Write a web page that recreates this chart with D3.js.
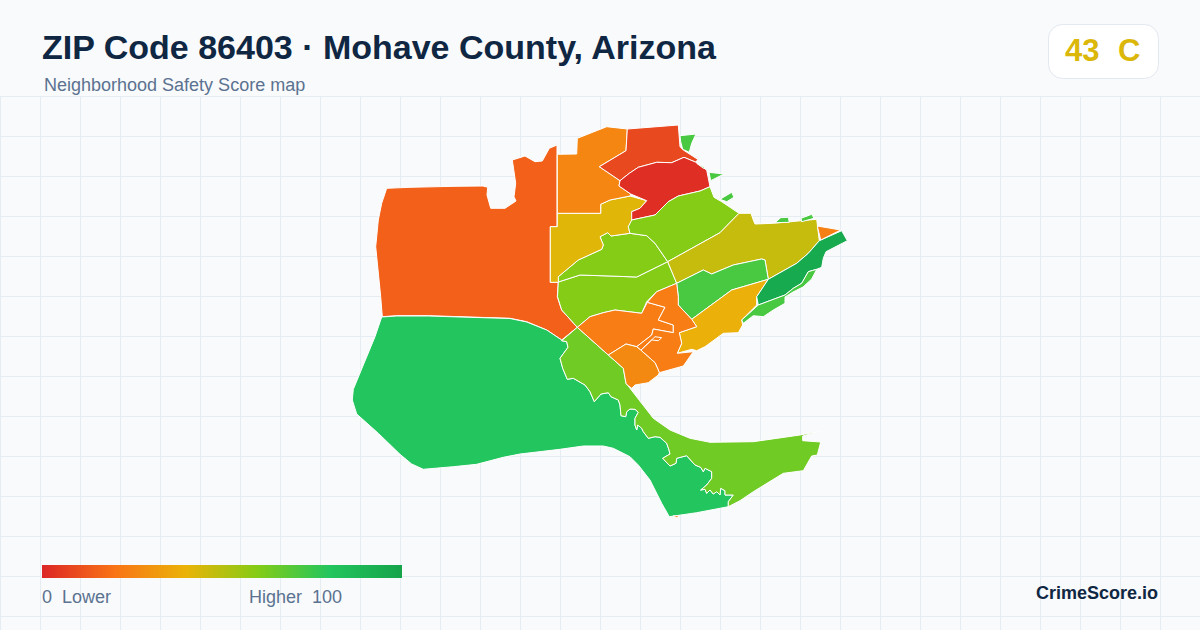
<!DOCTYPE html>
<html>
<head>
<meta charset="utf-8">
<script src="https://cdn.jsdelivr.net/npm/d3@7"></script>
<style>
html, body { margin: 0; padding: 0; background: #f8fafc; }
svg { display: block; font-family: "Liberation Sans", Arial, sans-serif; }
</style>
</head>
<body>
<svg id="chart"></svg>
<script>
var width = 1200,
	height = 630;

// score scale
var legendStops = [0, 20, 40, 60, 80, 100];
var legendColors = ['#dc2626', '#f97316', '#eab308', '#84cc16', '#22c55e', '#16a34a'];

var titleText = 'ZIP Code 86403 · Mohave County, Arizona';
var subtitleText = 'Neighborhood Safety Score map';
var overallScore = 43;
var overallGrade = 'C';
var legendLow = ['0', 'Lower'];
var legendHigh = ['Higher', '100'];
var brandText = 'CrimeScore.io';

var inletShore = [[561.7,340.7],[566.7,341.7],[568,347.3],[560,358.3],[562.7,368.3],[567.3,379.3],[573.3,378.3],[585,385],[590,391.7],[594.3,401.7],[601,394],[608.3,392.7],[611,396.7],[618.3,400],[620,405],[621,415.7],[625.7,416.7],[626.7,411.7],[630,409],[635,409.3],[638.3,412.3],[635,418.3],[635,425],[636.7,430],[637.7,425],[641.7,428.3],[643.3,431.7],[648.3,438.3],[655,436.7],[660,437.3],[666.7,443.3],[669,450],[670,454],[662.7,458.3],[670,466],[676,463.3],[676.7,458.3],[686.7,455.7],[695,465],[700.7,467.3],[703.3,471.7],[705,468.3],[711.7,471.7],[711.7,478.3],[706.7,485],[700.7,490],[705,489.3],[706.7,493.3],[710,490],[713.3,494],[716.7,491.7],[720,495],[720.7,488.3],[725,490.7],[725,495],[733.3,495],[728.3,501.7],[728.3,506.7]];

var westBasin = [[386.7,188.3],[410,187.3],[455,186.3],[483,186],[487.7,187.3],[487,195],[490.7,208.3],[505,208.3],[516,201],[514,196.7],[515.7,183.3],[512.3,160],[525,156],[535,161.7],[542.3,161],[549.3,148.3],[557,145],[557,226.7],[550.3,226.7],[550.3,282.3],[558.3,282.3],[557.3,296.7],[561.7,310],[577.3,327.3],[561.7,340],[546.7,330],[526.7,321.7],[510,318.3],[460,316.7],[428.3,315.7],[396.7,315.7],[382.3,316.7],[380.7,296.7],[376.7,256.7],[375.7,246.7],[378.3,220],[381.7,203.3]];
var southWest = [[381.7,317],[396.7,316],[428.3,316],[460,317],[510,318.5],[526.7,322],[546.7,330],[561.7,340]].concat(inletShore, [[696.7,512.7],[669.3,516.7],[661.7,503.3],[650,480],[638.3,465],[630,456.7],[613.3,448.3],[603.3,446],[583.3,446],[560,449.3],[520,454],[503.3,457.3],[476.7,464.3],[453.3,466.7],[423.3,469.3],[411.7,464],[400,454.3],[378.3,433.3],[356.7,414],[352.3,400],[353.3,389.3],[363.3,365],[375,336.7]]);
var peninsula = [[577.3,327.3],[608.3,355],[623.3,368.3],[626,383.3],[630,388.3],[653.3,418.3],[670,430],[690,438.3],[710,442.3],[753.3,441.7],[800,435],[820,431.3],[802.7,436],[802.7,440.7],[820.7,442],[817.3,455],[811.7,456],[803.3,470.7],[783.3,473.3],[753.3,491.7],[740,500.7]].concat(inletShore.slice().reverse());
var centralSouth = [[558.3,282],[580,275],[610,276],[636.7,277],[667.7,261.7],[676.7,283.3],[656.7,291.7],[646.7,301.7],[641.7,313.3],[615,310],[603.3,312.7],[590,316.7],[577.3,327.3],[561.7,310],[557.5,296.7]];
var centralNorth = [[558.3,276.7],[578.3,260],[601.7,249.3],[603.3,245],[600,236.7],[607.7,232.7],[611,236],[630,233.3],[646.7,235.7],[655,243.3],[667.7,261.7],[636.7,277],[610,276],[580,275],[558.3,282]];
var westCentral = [[557.3,213.3],[600.7,213.3],[600.7,204.3],[610,200],[630,196],[646.7,200.7],[640,208.3],[631.7,211.7],[632.3,220],[628.3,226.7],[630,233.3],[611,236],[607.7,232.7],[600,236.7],[603.3,245],[601.7,249.3],[578.3,260],[558.3,276.7],[558.3,282.3],[550.3,282.3],[550.3,226.7],[557.3,226.7]];
var northWest = [[557.3,154.3],[576.7,154],[577.3,138.3],[606.7,126.7],[627.3,129],[626,150.7],[599.3,166.7],[620,180.7],[619,186],[630.7,194],[630,196],[610,200],[600.7,204.3],[600.7,213.3],[557.3,213.3]];
var northTop = [[627.3,129],[678.3,125],[680,146.7],[683.3,150],[697.7,159.3],[696,162.3],[684,157.3],[671.7,162.7],[656.7,162.3],[638.3,167.3],[629.3,173.3],[620,180.7],[599.3,166.7],[626,150.7]];
var northCore = [[620,180.7],[629.3,173.3],[638.3,167.3],[656.7,162.3],[671.7,162.7],[684,157.3],[696,162.3],[706.7,170],[710,186.7],[700,191],[678.3,196],[668.3,201.7],[655,215],[631.7,220],[631.7,211.7],[640,208.3],[646.7,200.7],[630.7,194],[619,186]];
var northEast = [[710,186.7],[714,197.3],[721.7,201.7],[739,213.3],[720,232.7],[667.7,261.7],[655,243.3],[646.7,235.7],[630,233.3],[628.3,226.7],[631.7,220],[655,215],[668.3,201.7],[678.3,196],[700,191]];
var eastBand = [[739,213.3],[751,213.3],[753.3,220],[755,224],[773.3,223.3],[816.7,219.3],[819.3,240.7],[808.3,253.3],[796.7,263.3],[768.3,279.3],[765,260],[761.7,259],[733.3,265],[711.7,274],[703.3,270],[676.7,283.3],[667.7,261.7],[720,232.7]];
var eastInner = [[676.7,283.3],[703.3,270],[711.7,274],[733.3,265],[761.7,259],[765,260],[768.3,279.3],[731.7,290],[691.7,319.3],[678.3,305],[678.3,296.7]];
var shoreAmber = [[768.3,279.3],[756.7,296.7],[756.7,305],[741.7,320],[742.7,325],[738.3,332.7],[723.3,333.3],[705,346.7],[696.7,350.7],[691.7,349.3],[677.3,353.3],[681.7,343.3],[679.3,332.7],[696.7,326.7],[691.7,319.3],[731.7,290]];
var townWest = [[577.3,327.3],[590,316.7],[603.3,312.7],[615,310],[641.7,313.3],[647.3,302.3],[665,307.3],[658.3,320],[673.3,325],[673.3,332.7],[653.3,329],[651.7,335],[636.7,346.7],[626,344],[608.3,355]];
var townEast = [[647.3,302.3],[656.7,291.7],[676.7,283.3],[678.3,296.7],[678.3,305],[691.7,319.3],[696.7,326.7],[679.3,332.7],[681.7,343.3],[677.3,353.3],[693.3,351.7],[683.3,366],[659.3,372.7],[658.3,370],[655,362.7],[640.7,350],[636.7,346.7],[651.7,335],[653.3,329],[673.3,332.7],[673.3,325],[658.3,320],[665,307.3]];
var townFinger = [[640,351],[655,336.7],[661.7,337.7],[658.3,340.7],[651.7,340]];
var townSouth = [[608.3,355],[626,344],[636.7,346.7],[640.7,350],[655,362.7],[658.3,370],[659.3,372.7],[658.3,375],[648.3,382.7],[635,385],[631.7,388.3],[627.3,385],[626,383.3],[623.3,368.3]];
var shoreDark = [[841.7,230.7],[847.3,240.7],[826,251.7],[823.3,258.3],[821.7,267.3],[816.7,269.3],[808.3,271.7],[801.7,283.3],[793.3,288.3],[785,295],[758.3,305],[756.7,296.7],[768.3,279.3],[796.7,263.3],[808.3,253.3],[819.3,240.7]];
var shoreStrip = [[816.7,269.3],[811.7,279],[803,287],[793,292],[785,297],[785,303.3],[773.3,310],[763.3,316.7],[753.3,315.7],[743.3,323.3],[741.7,320],[758.3,305],[785,295],[793.3,288.3],[801.7,283.3],[808.3,271.7]];
var tipOrange = [[817.3,226],[840.7,230],[820.7,240]];
var isletA = [[680,135.7],[696,134],[691.7,143.3],[689.3,152.3],[682.7,149.3],[680.7,141.7]];
var isletB = [[696.7,163.3],[703.3,166.7],[706.7,169.3],[703,168]];
var isletC = [[709,172.3],[724,174],[710.7,180.7]];
var isletD = [[720,199.3],[731.7,192.3],[734,197.3],[726.7,201.7]];
var isletE = [[775,222.7],[780.7,217.7],[788.3,217.3],[789.3,222.3]];
var isletF = [[801,218.3],[811.7,214.3],[814,218.3],[801.7,221.7]];
var isletG = [[673,516],[679,515.5],[677,518]];

var regions = [westBasin, southWest, peninsula, centralSouth, centralNorth, westCentral, northWest, northTop, northCore, northEast, eastBand, eastInner, shoreAmber, townWest, townEast, townFinger, townSouth, shoreDark, shoreStrip, tipOrange, isletA, isletB, isletC, isletD, isletE, isletF, isletG];
var scores = [15, 80, 64, 60, 60, 42, 26, 9, 2, 60, 47, 72, 39, 23, 23, 23, 27, 96, 72, 24, 72, 72, 72, 72, 72, 72, 26];

var color = d3.scaleLinear().domain(legendStops).range(legendColors).clamp(true);

// identity fit: map units line up with the picture
var xScale = d3.scaleLinear().domain([340, 860]).range([340, 860]);
var yScale = d3.scaleLinear().domain([110, 530]).range([110, 530]);

var path = d3.line()
	.x(d => xScale(d[0]))
	.y(d => yScale(d[1]))
	.curve(d3.curveLinearClosed);

var svg = d3.select('#chart')
	.attr('width', width)
	.attr('height', height)
	.attr('viewBox', '0 0 ' + width + ' ' + height);

svg.append('rect')
	.attr('width', width)
	.attr('height', height)
	.attr('fill', '#f8fafc');

// background grid below the header
var gridTop = 96.5;
var grid = svg.append('g').attr('stroke', '#e6edf2').attr('stroke-width', 1);

grid.selectAll('.v')
	.data(d3.range(0.5, width, 40))
	.enter()
	.append('line')
		.attr('x1', d => d)
		.attr('x2', d => d)
		.attr('y1', gridTop)
		.attr('y2', height);

grid.selectAll('.h')
	.data(d3.range(gridTop, height, 40))
	.enter()
	.append('line')
		.attr('x1', 0)
		.attr('x2', width)
		.attr('y1', d => d)
		.attr('y2', d => d);

// map regions
svg.append('g')
	.selectAll('path')
	.data(regions)
	.enter()
	.append('path')
		.attr('d', d => path(d))
		.attr('fill', (d, i) => color(scores[i]))
		.attr('stroke', '#fff')
		.attr('stroke-width', 1)
		.attr('stroke-linejoin', 'round');

// header
svg.append('text')
	.attr('x', 42)
	.attr('y', 59)
	.attr('font-size', 34)
	.attr('font-weight', 700)
	.attr('fill', '#0f2742')
	.text(titleText);

svg.append('text')
	.attr('x', 44)
	.attr('y', 91)
	.attr('font-size', 18)
	.attr('fill', '#5b7290')
	.text(subtitleText);

// score badge
svg.append('rect')
	.attr('x', 1048.5)
	.attr('y', 24.5)
	.attr('width', 110)
	.attr('height', 54)
	.attr('rx', 14)
	.attr('fill', '#fff')
	.attr('stroke', '#e2e8f0');

svg.append('text')
	.attr('x', 1065)
	.attr('y', 61)
	.attr('font-size', 31)
	.attr('font-weight', 700)
	.attr('fill', color(overallScore))
	.text(overallScore);

svg.append('text')
	.attr('x', 1118)
	.attr('y', 61)
	.attr('font-size', 31)
	.attr('font-weight', 700)
	.attr('fill', color(overallScore))
	.text(overallGrade);

// legend
var legendScale = d3.scaleLinear().domain([0, 100]).range([42, 402]);

var gradient = svg.append('defs')
	.append('linearGradient')
	.attr('id', 'legend-gradient');

gradient.selectAll('stop')
	.data(legendStops)
	.enter()
	.append('stop')
		.attr('offset', d => d + '%')
		.attr('stop-color', d => color(d));

svg.append('rect')
	.attr('x', legendScale(0))
	.attr('y', 565)
	.attr('width', legendScale(100) - legendScale(0))
	.attr('height', 13)
	.attr('fill', 'url(#legend-gradient)');

svg.append('text')
	.attr('x', 42)
	.attr('y', 603)
	.attr('font-size', 18)
	.attr('fill', '#5b7290')
	.style('white-space', 'pre')
	.text(legendLow.join('  '));

svg.append('text')
	.attr('x', 249)
	.attr('y', 603)
	.attr('font-size', 18)
	.attr('fill', '#5b7290')
	.style('white-space', 'pre')
	.text(legendHigh.join('  '));

svg.append('text')
	.attr('x', 1158)
	.attr('y', 599)
	.attr('font-size', 18)
	.attr('font-weight', 700)
	.attr('fill', '#0f2742')
	.style('text-anchor', 'end')
	.text(brandText);
</script>
</body>
</html>
